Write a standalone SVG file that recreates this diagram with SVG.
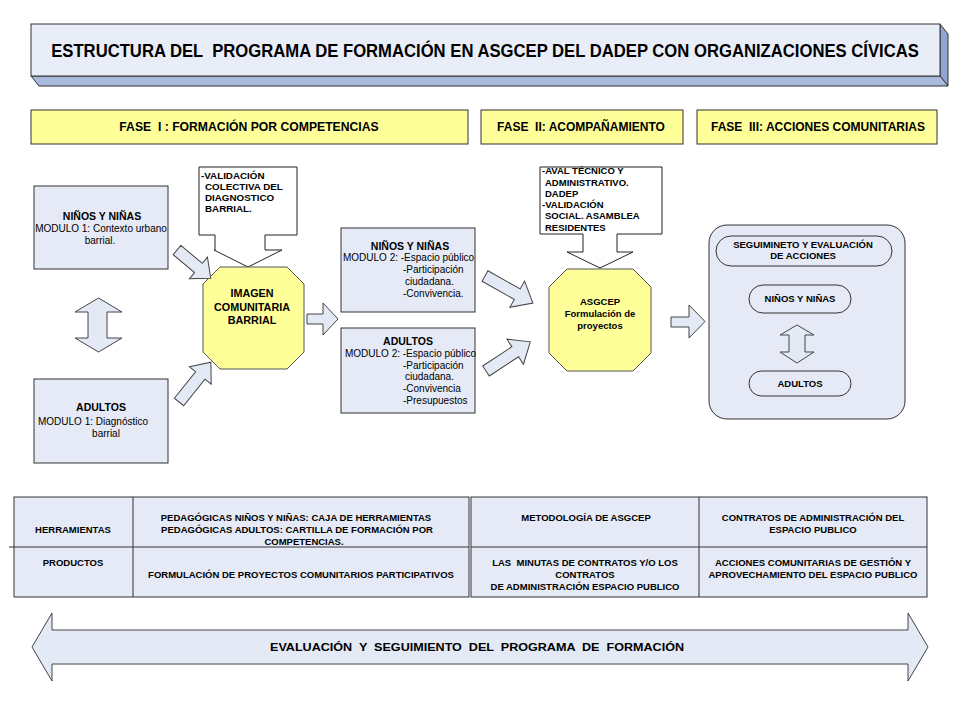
<svg xmlns="http://www.w3.org/2000/svg" width="960" height="720" viewBox="0 0 960 720">
<style>
text{font-family:"Liberation Sans",Arial,sans-serif;fill:#000}
.b{font-weight:bold}
.box{fill:#E5EAF6;stroke:#333;stroke-width:1}
.ylw{fill:#FFFF99;stroke:#333;stroke-width:1}
.oct{fill:#FFFF99;stroke:#555;stroke-width:1}
.call{fill:#fff;stroke:#222;stroke-width:1}
.arr{fill:#E3E9F5;stroke:#444;stroke-width:1}
.ln{stroke:#333;stroke-width:1;fill:none}
.c{text-anchor:middle}
</style>
<rect width="960" height="720" fill="#fff"/>

<g id="title">
<polygon points="940,24 948,34 948,86 940,76" fill="#8FA4CF" stroke="#333" stroke-width="1"/>
<polygon points="31,76 940,76 948,86 39,86" fill="#A9BBDD" stroke="#333" stroke-width="1"/>
<rect x="31" y="24" width="909" height="52" fill="#E8EDF8" stroke="#333" stroke-width="1"/>
<text transform="translate(485,57) scale(0.877,1)" x="0" y="0" class="b c" font-size="19" xml:space="preserve">ESTRUCTURA DEL  PROGRAMA DE FORMACIÓN EN ASGCEP DEL DADEP CON ORGANIZACIONES CÍVICAS</text>
</g>

<g id="fase1">
<rect x="31" y="110" width="437" height="34" class="ylw"/>
<text x="249" y="131" class="b c" font-size="12.2" xml:space="preserve">FASE  I : FORMACIÓN POR COMPETENCIAS</text>
</g>
<g id="fase2">
<rect x="481" y="110" width="202" height="34" class="ylw"/>
<text x="581" y="131" class="b c" font-size="12" xml:space="preserve">FASE  II: ACOMPAÑAMIENTO</text>
</g>
<g id="fase3">
<rect x="697" y="110" width="240" height="34" class="ylw"/>
<text x="818" y="131" class="b c" font-size="12" xml:space="preserve">FASE  III: ACCIONES COMUNITARIAS</text>
</g>

<g id="ninos1">
<rect x="34" y="186" width="134" height="83" class="box"/>
<text x="102" y="220" class="b c" font-size="10.5">NIÑOS Y NIÑAS</text>
<text x="101" y="232" class="c" font-size="10">MODULO 1: Contexto urbano</text>
<text x="100" y="244" class="c" font-size="10">barrial.</text>
</g>

<g id="adultos1">
<rect x="34" y="379" width="134" height="84" class="box"/>
<text x="101" y="411" class="b c" font-size="10.5">ADULTOS</text>
<text x="38" y="425" font-size="10">MODULO 1: Diagnóstico</text>
<text x="106" y="437" class="c" font-size="10">barrial</text>
</g>

<g id="callout1">
<path d="M199,167 H297 V235 H265 V250 H282 L248,267 L214,250 H215 V235 H199 Z" class="call"/>
<text x="201" y="179" class="b" font-size="9.8">-VALIDACIÓN</text>
<text x="205" y="190" class="b" font-size="9.8">COLECTIVA DEL</text>
<text x="205" y="201" class="b" font-size="9.8">DIAGNOSTICO</text>
<text x="205" y="212" class="b" font-size="9.8">BARRIAL.</text>
</g>

<g id="imagen">
<polygon points="220,267 287,267 304,284 304,352 287,369 220,369 203,352 203,284" class="oct"/>
<text x="252" y="297" class="b c" font-size="10.8">IMAGEN</text>
<text x="252" y="311" class="b c" font-size="10.8">COMUNITARIA</text>
<text x="252" y="324" class="b c" font-size="10.8">BARRIAL</text>
</g>

<g id="ninos2">
<rect x="341" y="228" width="134" height="84" class="box"/>
<text x="410" y="250" class="b c" font-size="10.5">NIÑOS Y NIÑAS</text>
<text x="343" y="261" font-size="10">MODULO 2: -Espacio público</text>
<text x="403" y="273" font-size="10">-Participación</text>
<text x="405" y="285" font-size="10">ciudadana.</text>
<text x="403" y="297" font-size="10">-Convivencia.</text>
</g>

<g id="adultos2">
<rect x="341" y="328" width="134" height="85" class="box"/>
<text x="408" y="345" class="b c" font-size="10.5">ADULTOS</text>
<text x="345" y="357" font-size="10">MODULO 2: -Espacio público</text>
<text x="403" y="369" font-size="10">-Participación</text>
<text x="405" y="380" font-size="10">ciudadana.</text>
<text x="403" y="392" font-size="10">-Convivencia</text>
<text x="403" y="404" font-size="10">-Presupuestos</text>
</g>

<g id="callout2">
<path d="M540,167 H662 V234 H617 V252 H633 L600,268 L567,252 H583 V234 H540 Z" class="call"/>
<text x="542" y="174" class="b" font-size="9.5">-AVAL TÉCNICO Y</text>
<text x="545" y="186" class="b" font-size="9.5">ADMINISTRATIVO.</text>
<text x="545" y="197" class="b" font-size="9.5">DADEP</text>
<text x="542" y="208" class="b" font-size="9.5">-VALIDACIÓN</text>
<text x="545" y="219" class="b" font-size="9.5">SOCIAL. ASAMBLEA</text>
<text x="545" y="231" class="b" font-size="9.5">RESIDENTES</text>
</g>

<g id="asgcep">
<polygon points="567,269 633,269 651,287 651,353 633,371 567,371 549,353 549,287" class="oct"/>
<text x="600" y="305" class="b c" font-size="9.5">ASGCEP</text>
<text x="600" y="317" class="b c" font-size="9.5">Formulación de</text>
<text x="600" y="329" class="b c" font-size="9.5">proyectos</text>
</g>

<g id="fase3box">
<rect x="709" y="225" width="196" height="194" rx="18" ry="18" class="box"/>
<rect x="716" y="236" width="176" height="30" rx="15" ry="15" class="box"/>
<text x="803" y="248" class="b c" font-size="9.5">SEGUIMINETO Y EVALUACIÓN</text>
<text x="803" y="259" class="b c" font-size="9.5">DE ACCIONES</text>
<rect x="749" y="285" width="102" height="28" rx="14" ry="14" class="box"/>
<text x="800" y="302" class="b c" font-size="9.5">NIÑOS Y NIÑAS</text>
<rect x="749" y="371" width="102" height="25" rx="12.5" ry="12.5" class="box"/>
<text x="800" y="387" class="b c" font-size="9.5">ADULTOS</text>
</g>

<g id="connectors">
<path d="M98.5,298 L122,312 H107 V338 H122 L98.5,352 L75,338 H88 V312 H75 Z" class="arr"/>
<polygon transform="translate(177,250) rotate(40)" points="0,-6 28,-6 28,-14 44,0 28,14 28,6 0,6" class="arr"/>
<polygon transform="translate(179,402) rotate(-51.3)" points="0,-6 34,-6 34,-14 51,0 34,14 34,6 0,6" class="arr"/>
<polygon points="307,314 323,314 323,303 338,319 323,335 323,324 307,324" class="arr"/>
<polygon transform="translate(485,276) rotate(29.4)" points="0,-6 37,-6 37,-15 55,0 37,15 37,6 0,6" class="arr"/>
<polygon transform="translate(486,371) rotate(-33.4)" points="0,-6 35,-6 35,-15 53,0 35,15 35,6 0,6" class="arr"/>
<polygon points="671,317 689,317 689,305 705,321.5 689,338 689,327 671,327" class="arr"/>
<path d="M797,325 L814,335 H805 V352 H814 L797,363 L780,352 H789 V335 H780 Z" class="arr"/>
</g>

<g id="tabla1">
<rect x="14" y="497" width="455" height="100" class="box"/>
<line x1="133" y1="497" x2="133" y2="597" class="ln"/>
<line x1="9" y1="547" x2="469" y2="547" class="ln"/>
<text x="73" y="533" class="b c" font-size="9.5">HERRAMIENTAS</text>
<text x="73" y="566" class="b c" font-size="9.5">PRODUCTOS</text>
<text x="296" y="521" class="b c" font-size="9.5">PEDAGÓGICAS NIÑOS Y NIÑAS: CAJA DE HERRAMIENTAS</text>
<text x="297" y="533" class="b c" font-size="9.5">PEDAGÓGICAS ADULTOS: CARTILLA DE FORMACIÓN POR</text>
<text x="304" y="545" class="b c" font-size="9.5">COMPETENCIAS.</text>
<text x="301" y="578" class="b c" font-size="9.5">FORMULACIÓN DE PROYECTOS COMUNITARIOS PARTICIPATIVOS</text>
</g>

<g id="tabla2">
<rect x="471" y="497" width="456" height="100" class="box"/>
<line x1="699" y1="497" x2="699" y2="597" class="ln"/>
<line x1="471" y1="547" x2="927" y2="547" class="ln"/>
<text x="586" y="521" class="b c" font-size="9.5">METODOLOGÍA DE ASGCEP</text>
<text x="813" y="521" class="b c" font-size="9.5">CONTRATOS DE ADMINISTRACIÓN DEL</text>
<text x="813" y="533" class="b c" font-size="9.5">ESPACIO PUBLICO</text>
<text x="585" y="566" class="b c" font-size="9.5" xml:space="preserve">LAS  MINUTAS DE CONTRATOS Y/O LOS</text>
<text x="585" y="578" class="b c" font-size="9.5">CONTRATOS</text>
<text x="585" y="590" class="b c" font-size="9.5">DE ADMINISTRACIÓN ESPACIO PUBLICO</text>
<text x="813" y="566" class="b c" font-size="9.5">ACCIONES COMUNITARIAS DE GESTIÓN Y</text>
<text x="813" y="578" class="b c" font-size="9.5">APROVECHAMIENTO DEL ESPACIO PUBLICO</text>
</g>

<g id="evaluacion">
<path d="M32,647 L52,613 V630 H908 V613 L928,647 L908,681 V664 H52 V681 Z" class="arr"/>
<text x="477" y="651" class="b c" font-size="11" xml:space="preserve" textLength="414" lengthAdjust="spacingAndGlyphs">EVALUACIÓN  Y  SEGUIMIENTO  DEL  PROGRAMA  DE  FORMACIÓN</text>
</g>
</svg>
